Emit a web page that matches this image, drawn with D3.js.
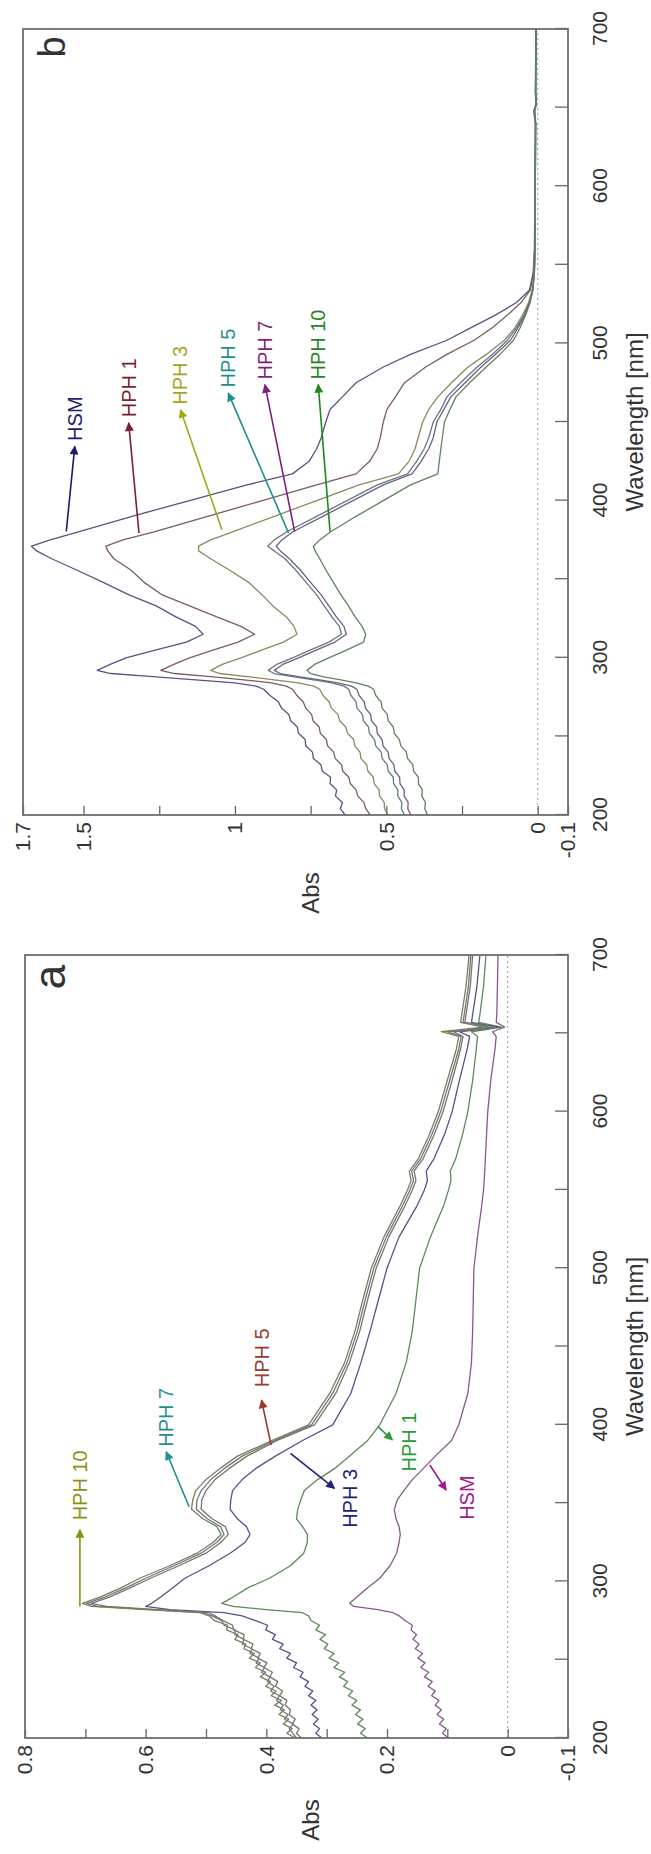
<!DOCTYPE html>
<html>
<head>
<meta charset="utf-8">
<script src="https://cdn.jsdelivr.net/npm/d3@7"></script>
<style>
  body { margin: 0; background: #fff; }
  svg { display: block; }
  text { font-family: "Liberation Sans", Arial, sans-serif; }
</style>
</head>
<body>
<div id="chart"></div>
<script>
// Wavelength grids (nm)
var wavelengthsA = [200,203,206,209,212,215,218,221,224,227,230,233,236,239,242,245,248,251,254,257,260,263,266,269,272,275,278,
  280,282,284,286,290,296,302,310,318,325,330,335,340,346,352,358,365,372,380,390,
  400,420,440,460,480,500,520,540,550,556,562,570,585,600,620,640,648,651,654,657,662,680,700];

var wavelengthsB = [200,204,208,212,216,220,224,228,232,236,240,244,248,252,256,260,264,268,272,276,280,
  282,284,286,288,290,292,
  296,300,305,310,315,320,326,333,340,348,356,363,368,
  371,375,380,390,400,410,417,425,433,440,450,458,466,475,485,493,502,510,518,526,534,545,560,600,640,648,652,660,700];

// Panel a absorbance
var hph10A = [0.352,0.366,0.357,0.372,0.363,0.379,0.370,0.386,0.375,0.392,0.384,0.401,0.393,0.410,0.401,0.418,0.410,0.428,0.420,0.437,0.434,0.452,0.447,0.466,0.464,0.486,0.495,
  0.510,0.600,0.690,0.705,0.676,0.640,0.610,0.560,0.515,0.488,0.475,0.482,0.505,0.524,0.522,0.517,0.500,0.477,0.448,0.390,
  0.330,0.295,0.270,0.253,0.240,0.226,0.205,0.178,0.166,0.160,0.163,0.148,0.130,0.115,0.100,0.085,0.081,0.110,0.040,0.078,0.076,0.069,0.064];
var hph7A = [0.350,0.356,0.362,0.355,0.370,0.364,0.377,0.372,0.383,0.378,0.393,0.387,0.398,0.394,0.408,0.403,0.417,0.412,0.427,0.424,0.440,0.437,0.452,0.452,0.470,0.474,0.490,
  0.505,0.590,0.680,0.698,0.668,0.632,0.600,0.553,0.508,0.482,0.470,0.476,0.498,0.516,0.515,0.508,0.492,0.470,0.440,0.385,
  0.325,0.290,0.266,0.249,0.236,0.222,0.201,0.174,0.162,0.156,0.159,0.144,0.126,0.111,0.096,0.081,0.077,0.100,0.030,0.074,0.072,0.065,0.061];
var hph5A = [0.342,0.350,0.346,0.357,0.352,0.362,0.360,0.369,0.366,0.378,0.373,0.385,0.381,0.394,0.390,0.404,0.399,0.414,0.410,0.425,0.422,0.438,0.437,0.454,0.456,0.472,0.485,
  0.495,0.580,0.665,0.690,0.660,0.625,0.592,0.545,0.500,0.475,0.463,0.468,0.490,0.508,0.507,0.500,0.485,0.462,0.432,0.382,
  0.320,0.285,0.262,0.245,0.232,0.218,0.197,0.170,0.158,0.152,0.155,0.140,0.122,0.107,0.092,0.078,0.074,0.090,0.020,0.071,0.069,0.062,0.058];
var hph3A = [0.308,0.318,0.312,0.322,0.314,0.324,0.316,0.326,0.318,0.330,0.323,0.336,0.330,0.344,0.339,0.355,0.350,0.366,0.360,0.378,0.372,0.390,0.385,0.401,0.398,0.418,0.440,
  0.470,0.560,0.600,0.590,0.575,0.555,0.535,0.495,0.460,0.435,0.427,0.433,0.448,0.460,0.459,0.456,0.440,0.418,0.385,0.340,
  0.290,0.260,0.243,0.228,0.214,0.200,0.180,0.150,0.138,0.133,0.135,0.122,0.105,0.092,0.080,0.067,0.063,0.080,0.015,0.060,0.058,0.051,0.046];
var hph1A = [0.232,0.244,0.236,0.249,0.240,0.252,0.244,0.258,0.250,0.264,0.257,0.272,0.265,0.279,0.270,0.288,0.280,0.296,0.288,0.304,0.298,0.311,0.302,0.318,0.312,0.326,0.330,
  0.340,0.400,0.455,0.474,0.455,0.430,0.395,0.360,0.338,0.332,0.332,0.340,0.350,0.348,0.343,0.337,0.315,0.287,0.262,0.232,
  0.212,0.185,0.168,0.158,0.152,0.146,0.128,0.106,0.098,0.094,0.095,0.086,0.075,0.066,0.058,0.052,0.050,0.060,0.010,0.048,0.046,0.040,0.036];
var hsmA = [0.098,0.108,0.102,0.113,0.106,0.117,0.110,0.120,0.114,0.126,0.120,0.132,0.125,0.138,0.131,0.144,0.137,0.149,0.141,0.153,0.147,0.157,0.151,0.160,0.158,0.170,0.180,
  0.190,0.215,0.255,0.262,0.250,0.232,0.212,0.195,0.184,0.180,0.178,0.180,0.185,0.188,0.183,0.172,0.158,0.140,0.120,0.093,
  0.081,0.066,0.060,0.058,0.057,0.056,0.050,0.043,0.040,0.039,0.038,0.037,0.035,0.033,0.028,0.021,0.019,0.025,0.005,0.019,0.018,0.017,0.016];

// Panel b absorbance
var hsmB = [0.636,0.652,0.645,0.668,0.664,0.686,0.684,0.712,0.716,0.741,0.744,0.766,0.768,0.790,0.794,0.816,0.822,0.846,0.857,0.884,0.905,
  0.930,1.000,1.130,1.270,1.410,1.455,
  1.410,1.360,1.260,1.160,1.105,1.130,1.195,1.260,1.350,1.435,1.525,1.605,1.655,
  1.672,1.610,1.520,1.340,1.150,0.960,0.810,0.755,0.730,0.715,0.700,0.686,0.645,0.600,0.510,0.420,0.300,0.220,0.140,0.070,0.027,0.015,0.011,0.009,0.008,0.013,0.006,0.008,0.006];
var hph1B = [0.553,0.568,0.574,0.594,0.600,0.619,0.624,0.644,0.648,0.669,0.674,0.694,0.698,0.718,0.722,0.742,0.747,0.766,0.775,0.795,0.810,
  0.830,0.880,0.970,1.080,1.200,1.245,
  1.200,1.150,1.070,0.990,0.935,0.980,1.060,1.150,1.240,1.300,1.345,1.400,1.420,
  1.426,1.370,1.270,1.090,0.910,0.730,0.600,0.555,0.530,0.520,0.510,0.498,0.470,0.440,0.370,0.300,0.210,0.150,0.100,0.055,0.024,0.014,0.010,0.008,0.007,0.012,0.006,0.007,0.006];
var hph3B = [0.494,0.506,0.507,0.522,0.524,0.540,0.543,0.561,0.565,0.584,0.587,0.604,0.608,0.628,0.634,0.654,0.660,0.682,0.689,0.709,0.720,
  0.740,0.790,0.870,0.960,1.050,1.080,
  1.040,0.980,0.910,0.840,0.795,0.805,0.830,0.875,0.910,0.955,1.020,1.080,1.120,
  1.120,1.080,1.010,0.870,0.730,0.590,0.460,0.425,0.405,0.395,0.380,0.360,0.330,0.285,0.230,0.170,0.110,0.075,0.050,0.030,0.018,0.012,0.009,0.008,0.007,0.011,0.005,0.007,0.006];
var hph5B = [0.440,0.450,0.449,0.462,0.462,0.476,0.477,0.494,0.497,0.514,0.517,0.535,0.539,0.556,0.559,0.576,0.579,0.597,0.600,0.617,0.624,
  0.640,0.680,0.740,0.810,0.870,0.890,
  0.860,0.810,0.750,0.690,0.648,0.655,0.680,0.705,0.730,0.765,0.800,0.835,0.870,
  0.892,0.870,0.830,0.730,0.630,0.530,0.430,0.400,0.375,0.360,0.345,0.320,0.300,0.255,0.200,0.150,0.100,0.070,0.045,0.028,0.017,0.011,0.009,0.008,0.007,0.011,0.005,0.007,0.006];
var hph7B = [0.419,0.429,0.428,0.441,0.441,0.455,0.456,0.472,0.475,0.491,0.494,0.511,0.514,0.530,0.532,0.549,0.552,0.569,0.573,0.590,0.597,
  0.615,0.660,0.720,0.790,0.850,0.870,
  0.840,0.790,0.730,0.670,0.632,0.640,0.665,0.690,0.715,0.750,0.785,0.820,0.850,
  0.864,0.845,0.810,0.710,0.610,0.510,0.415,0.385,0.360,0.345,0.333,0.310,0.287,0.240,0.187,0.140,0.090,0.065,0.042,0.026,0.016,0.011,0.009,0.008,0.007,0.010,0.005,0.007,0.006];
var hph10B = [0.364,0.373,0.371,0.383,0.381,0.394,0.394,0.410,0.413,0.430,0.434,0.452,0.457,0.474,0.477,0.494,0.497,0.514,0.517,0.535,0.542,
  0.560,0.600,0.650,0.710,0.750,0.762,
  0.735,0.690,0.630,0.575,0.568,0.580,0.603,0.625,0.650,0.675,0.700,0.720,0.735,
  0.741,0.720,0.685,0.600,0.510,0.420,0.330,0.325,0.320,0.315,0.308,0.290,0.270,0.225,0.170,0.125,0.080,0.058,0.040,0.025,0.016,0.011,0.009,0.008,0.007,0.010,0.005,0.007,0.006];

// Ticks and labels
var wavelengthTicks = [200,250,300,350,400,450,500,550,600,650,700];
var wavelengthLabels = [200,300,400,500,600,700];
var absTicksA = [-0.1,0,0.1,0.2,0.3,0.4,0.5,0.6,0.7,0.8];
var absLabelsA = ["-0.1","0","0.2","0.4","0.6","0.8"];
var absTicksB = [-0.1,0,0.25,0.5,0.75,1,1.25,1.5,1.7];
var absLabelsB = ["-0.1","0","0.5","1","1.5","1.7"];

// Arrow annotations: [wl, abs] from curve to label
var notesA = [
  {text: "HPH 10", color: "#8f8f12", from: [284, 0.709], to: [333, 0.709], at: [339, 0.709], anchor: "start"},
  {text: "HPH 7", color: "#1f8f8f", from: [347.7, 0.528], to: [382.8, 0.566], at: [386, 0.566], anchor: "start"},
  {text: "HPH 5", color: "#9a3a2a", from: [387, 0.392], to: [415.8, 0.408], at: [424, 0.408], anchor: "start"},
  {text: "HPH 3", color: "#22227a", from: [381.8, 0.36], to: [359.4, 0.287], at: [353, 0.262], anchor: "middle"},
  {text: "HPH 1", color: "#2a9a3a", from: [398.8, 0.215], to: [390.3, 0.191], at: [389, 0.164], anchor: "middle"},
  {text: "HSM", color: "#a01a8a", from: [374.3, 0.129], to: [358.4, 0.102], at: [353.5, 0.067], anchor: "middle"}
];
var notesB = [
  {text: "HSM", color: "#1c1c6e", from: [380.4, 1.557], to: [434.5, 1.529], at: [438, 1.527], anchor: "start"},
  {text: "HPH 1", color: "#7a1f35", from: [379.4, 1.317], to: [449.4, 1.351], at: [453, 1.351], anchor: "start"},
  {text: "HPH 3", color: "#a5a51c", from: [381.5, 1.043], to: [457.8, 1.18], at: [461, 1.18], anchor: "start"},
  {text: "HPH 5", color: "#1e8f8f", from: [379.4, 0.823], to: [468.4, 1.022], at: [472, 1.022], anchor: "start"},
  {text: "HPH 7", color: "#7f1f7f", from: [380.4, 0.803], to: [473.8, 0.901], at: [477, 0.901], anchor: "start"},
  {text: "HPH 10", color: "#1f861f", from: [380.4, 0.686], to: [473.8, 0.725], at: [477, 0.725], anchor: "start"}
];

var panels = [
  {letter: "a", letterX: 877, letterSize: 44, x0: 116, x1: 899, y0: 25, y1: 568, absMax: 0.8,
   grid: wavelengthsA, ticks: absTicksA, labels: absLabelsA, notes: notesA, absX: 34,
   series: [
     {values: hsmA, color: "#86598a"}, {values: hph1A, color: "#5b8a5b"},
     {values: hph3A, color: "#52528a"}, {values: hph5A, color: "#82706a"},
     {values: hph7A, color: "#5e7f80"}, {values: hph10A, color: "#7d7d5a"}]},
  {letter: "b", letterX: 1807, letterSize: 38, x0: 1039, x1: 1825, y0: 23, y1: 568, absMax: 1.7,
   grid: wavelengthsB, ticks: absTicksB, labels: absLabelsB, notes: notesB, absX: 961,
   series: [
     {values: hsmB, color: "#555580"}, {values: hph1B, color: "#7c5c5c"},
     {values: hph3B, color: "#8a8a5e"}, {values: hph5B, color: "#5f7c85"},
     {values: hph7B, color: "#6e5f80"}, {values: hph10B, color: "#5f835f"}]}
];

// The figure is drawn landscape, then turned a quarter turn for the portrait page
var svg = d3.select("#chart").append("svg")
    .attr("width", 651)
    .attr("height", 1854);

var defs = svg.append("defs");
var fig = svg.append("g")
    .attr("transform", "translate(0,1854) rotate(-90)");

function markerFor(color) {
  var id = "arrow" + color.replace("#", "");
  if (defs.select("#" + id).empty()) {
    defs.append("marker")
        .attr("id", id)
        .attr("viewBox", "0 0 10 10")
        .attr("refX", 9)
        .attr("refY", 5)
        .attr("markerUnits", "userSpaceOnUse")
        .attr("markerWidth", 11)
        .attr("markerHeight", 9)
        .attr("orient", "auto")
      .append("path")
        .attr("d", "M0,0L10,5L0,10z")
        .attr("fill", color);
  }
  return "url(#" + id + ")";
}

function drawPanel(p) {
  var x = d3.scaleLinear().domain([200, 700]).range([p.x0, p.x1]);
  var y = d3.scaleLinear().domain([-0.1, p.absMax]).range([p.y1, p.y0]);
  var g = fig.append("g");

  // zero line
  g.append("line")
      .attr("x1", x(200)).attr("x2", x(700))
      .attr("y1", y(0)).attr("y2", y(0))
      .attr("stroke", "#9a9ab0")
      .attr("stroke-width", 1)
      .attr("stroke-dasharray", "2,3");

  var line = d3.line()
      .x(function(d, i) { return x(p.grid[i]); })
      .y(function(d) { return y(d); });

  g.selectAll(".curve").data(p.series).enter()
    .append("path")
      .attr("class", "curve")
      .attr("d", function(s) { return line(s.values); })
      .attr("fill", "none")
      .attr("stroke", function(s) { return s.color; })
      .attr("stroke-width", 1.3)
      .attr("stroke-linejoin", "round");

  // axes, ticks pointing inward
  var xAxis = d3.axisBottom(x)
      .tickValues(wavelengthTicks)
      .tickSizeInner(-13).tickSizeOuter(0).tickPadding(24)
      .tickFormat(function(d) { return wavelengthLabels.indexOf(d) >= 0 ? d : ""; });
  var yAxis = d3.axisLeft(y)
      .tickValues(p.ticks)
      .tickSizeInner(-9).tickSizeOuter(0).tickPadding(7)
      .tickFormat(function(d) {
        var s = String(Math.round(d * 100) / 100);
        return p.labels.indexOf(s) >= 0 ? s : "";
      });

  [g.append("g").attr("transform", "translate(0," + p.y1 + ")").call(xAxis),
   g.append("g").attr("transform", "translate(" + p.x0 + ",0)").call(yAxis)].forEach(function(a) {
    a.select(".domain").remove();
    a.selectAll(".tick line").attr("stroke", "#666").attr("stroke-width", 1.3);
    a.selectAll(".tick text")
        .attr("font-family", "'Liberation Sans', Arial, sans-serif")
        .attr("font-size", 21)
        .attr("fill", "#333");
  });

  g.append("rect")
      .attr("x", p.x0).attr("y", p.y0)
      .attr("width", p.x1 - p.x0).attr("height", p.y1 - p.y0)
      .attr("fill", "none")
      .attr("stroke", "#6e6e6e")
      .attr("stroke-width", 1.8);

  // annotations
  p.notes.forEach(function(n) {
    g.append("line")
        .attr("x1", x(n.from[0])).attr("y1", y(n.from[1]))
        .attr("x2", x(n.to[0])).attr("y2", y(n.to[1]))
        .attr("stroke", n.color)
        .attr("stroke-width", 1.6)
        .attr("marker-end", markerFor(n.color));
    g.append("text")
        .attr("x", x(n.at[0])).attr("y", y(n.at[1]))
        .attr("dy", "0.35em")
        .attr("text-anchor", n.anchor)
        .attr("font-size", 20)
        .attr("fill", n.color)
        .text(n.text);
  });

  g.append("text")
      .attr("x", (p.x0 + p.x1) / 2).attr("y", 635)
      .attr("dy", "0.35em")
      .attr("text-anchor", "middle")
      .attr("font-size", 24)
      .attr("fill", "#333")
      .text("Wavelength [nm]");

  g.append("text")
      .attr("x", p.absX).attr("y", 311)
      .attr("dy", "0.35em")
      .attr("text-anchor", "middle")
      .attr("font-size", 24)
      .attr("fill", "#333")
      .text("Abs");

  g.append("text")
      .attr("x", p.letterX).attr("y", 65)
      .attr("text-anchor", "middle")
      .attr("font-size", p.letterSize)
      .attr("fill", "#333")
      .text(p.letter);
}

panels.forEach(drawPanel);
</script>
</body>
</html>
